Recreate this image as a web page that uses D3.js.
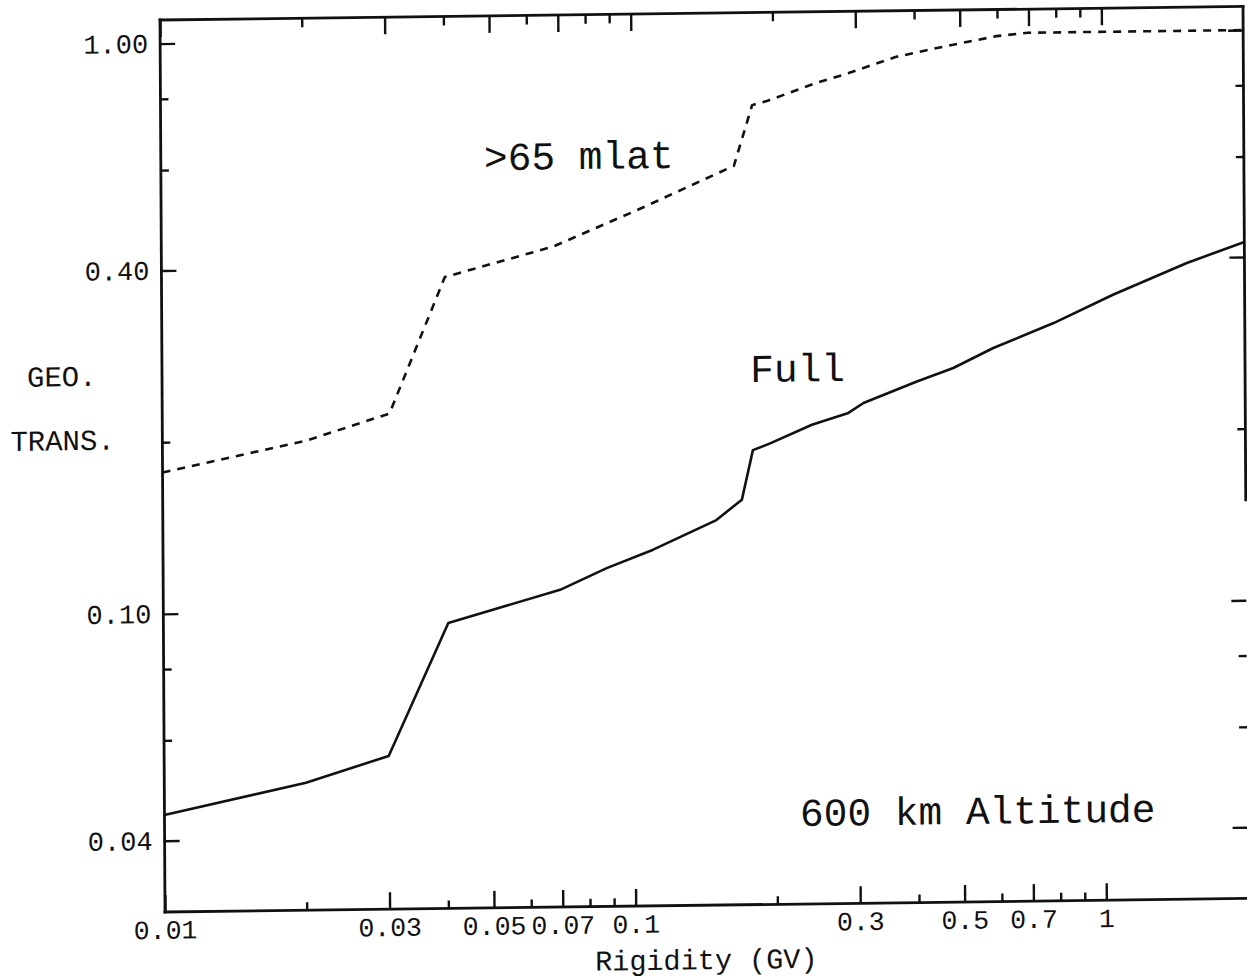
<!DOCTYPE html>
<html>
<head>
<meta charset="utf-8">
<script src="https://cdn.jsdelivr.net/npm/d3@7"></script>
<style>
  html, body { margin: 0; padding: 0; background: #fff; }
  svg { display: block; }
  text { font-family: "Liberation Mono", "DejaVu Sans Mono", monospace; fill: #111; }
</style>
</head>
<body>
<svg id="chart" width="1247" height="980"></svg>
<script>
// Rigidity grid (GV) and geometric transmission for each case
const fullRigidity = [0.01, 0.02, 0.03, 0.0403, 0.0697, 0.0876, 0.110, 0.150, 0.170, 0.1797, 0.1955, 0.240, 0.287, 0.309, 0.4015, 0.480, 0.584, 0.785, 1.053, 1.509, 2.0];
const fullTrans    = [0.0444, 0.0502, 0.0557, 0.0950, 0.108, 0.1176, 0.1264, 0.142, 0.154, 0.188, 0.193, 0.2077, 0.2174, 0.2261, 0.246, 0.2593, 0.2805, 0.3093, 0.346, 0.3916, 0.425];

const polarRigidity = [0.01, 0.0203, 0.0304, 0.04, 0.068, 0.103, 0.165, 0.1807, 0.195, 0.246, 0.287, 0.365, 0.463, 0.598, 0.698, 2.0];
const polarTrans    = [0.177, 0.200, 0.222, 0.384, 0.432, 0.499, 0.593, 0.757, 0.770, 0.824, 0.855, 0.913, 0.95, 0.988, 1.0, 1.0];

// Axis ticks
const xMajorTicks  = [0.01, 0.03, 0.05, 0.07, 0.1, 0.3, 0.5, 0.7, 1];
const xMajorLabels = ["0.01", "0.03", "0.05", "0.07", "0.1", "0.3", "0.5", "0.7", "1"];
const xMinorTicks  = [0.02, 0.04, 0.06, 0.08, 0.09, 0.2, 0.4, 0.6, 0.8, 0.9];
const yMajorTicks  = [1.0, 0.4, 0.1, 0.04];
const yMajorLabels = ["1.00", "0.40", "0.10", "0.04"];
const yMinorTicks  = [0.8, 0.6, 0.2, 0.08, 0.06];

// In-plot annotations (positioned in data coordinates)
const noteText = [">65 mlat", "Full", "600 km Altitude"];
const noteX    = [0.0486, 0.1777, 0.2239];
const noteY    = [0.590, 0.2475, 0.0411];

const plotLeft = 165, plotRight = 1248, plotTop = 20, plotBottom = 912;

// The printed page sits slightly askew; tilt the whole figure about its lower-left corner
const svg = d3.select("#chart").append("g")
  .attr("transform", "matrix(1,-0.0125,0.0056,1,-5.1,2.06)");

const x = d3.scaleLog().domain([0.01, 2]).range([plotLeft, plotRight]);
const y = d3.scaleLog().domain([0.03, 1.1]).range([plotBottom, plotTop]);

const ink = "#111";
const lineW = 2.6;

// Frame: full left/top/bottom edges; right edge is only printed down to ~0.15
const frame = svg.append("g").attr("stroke", ink).attr("stroke-width", 2.8).attr("stroke-linecap", "square");
frame.append("line").attr("x1", plotLeft).attr("x2", plotLeft).attr("y1", plotTop).attr("y2", plotBottom);
frame.append("line").attr("x1", plotLeft).attr("x2", plotRight).attr("y1", plotTop).attr("y2", plotTop);
frame.append("line").attr("x1", plotLeft).attr("x2", plotRight).attr("y1", plotBottom).attr("y2", plotBottom);
frame.append("line").attr("x1", plotRight).attr("x2", plotRight).attr("y1", plotTop).attr("y2", y(0.15));

function styleAxis(g) {
  g.select(".domain").remove();
  g.selectAll(".tick line").attr("stroke", ink).attr("stroke-width", 2.4);
  g.selectAll(".tick text").attr("fill", ink).attr("font-family", "Liberation Mono, DejaVu Sans Mono, monospace");
}

// Bottom axis
svg.append("g").attr("transform", `translate(0,${plotBottom})`)
  .call(d3.axisBottom(x).tickValues(xMajorTicks).tickSize(-17).tickPadding(8)
    .tickFormat((d, i) => xMajorLabels[i]))
  .call(styleAxis)
  .selectAll(".tick text").attr("font-size", 26.5);
svg.append("g").attr("transform", `translate(0,${plotBottom})`)
  .call(d3.axisBottom(x).tickValues(xMinorTicks).tickSize(-8).tickFormat(""))
  .call(styleAxis);

// Top axis (ticks only)
svg.append("g").attr("transform", `translate(0,${plotTop})`)
  .call(d3.axisTop(x).tickValues(xMajorTicks).tickSize(-17).tickFormat(""))
  .call(styleAxis);
svg.append("g").attr("transform", `translate(0,${plotTop})`)
  .call(d3.axisTop(x).tickValues(xMinorTicks).tickSize(-9).tickFormat(""))
  .call(styleAxis);

// Left axis
svg.append("g").attr("transform", `translate(${plotLeft},0)`)
  .call(d3.axisLeft(y).tickValues(yMajorTicks).tickSize(-15).tickPadding(12)
    .tickFormat((d, i) => yMajorLabels[i]))
  .call(styleAxis)
  .selectAll(".tick text").attr("font-size", 27);
svg.append("g").attr("transform", `translate(${plotLeft},0)`)
  .call(d3.axisLeft(y).tickValues(yMinorTicks).tickSize(-8).tickFormat(""))
  .call(styleAxis);

// Right axis (ticks only)
svg.append("g").attr("transform", `translate(${plotRight},0)`)
  .call(d3.axisRight(y).tickValues(yMajorTicks).tickSize(-15).tickFormat(""))
  .call(styleAxis);
svg.append("g").attr("transform", `translate(${plotRight},0)`)
  .call(d3.axisRight(y).tickValues(yMinorTicks).tickSize(-8).tickFormat(""))
  .call(styleAxis);

// Curves
const line = d3.line().x(d => x(d[0])).y(d => y(d[1]));

svg.append("path")
  .datum(d3.zip(fullRigidity, fullTrans))
  .attr("d", line)
  .attr("fill", "none").attr("stroke", ink).attr("stroke-width", lineW)
  .attr("stroke-linejoin", "round");

svg.append("path")
  .datum(d3.zip(polarRigidity, polarTrans))
  .attr("d", line)
  .attr("fill", "none").attr("stroke", ink).attr("stroke-width", lineW)
  .attr("stroke-dasharray", "8,7").attr("stroke-linejoin", "round");

// Annotations
svg.append("g").selectAll("text")
  .data(noteText)
  .join("text")
  .attr("x", (d, i) => x(noteX[i]))
  .attr("y", (d, i) => y(noteY[i]))
  .attr("font-size", 39.5)
  .text(d => d);

// Axis titles
svg.append("text").attr("x", 706).attr("y", 976).attr("text-anchor", "middle")
  .attr("font-size", 28.5).text("Rigidity (GV)");
svg.append("text").attr("x", 30).attr("y", 385).attr("font-size", 29).text("GEO.");
svg.append("text").attr("x", 13).attr("y", 449).attr("font-size", 29).text("TRANS.");
</script>
</body>
</html>
